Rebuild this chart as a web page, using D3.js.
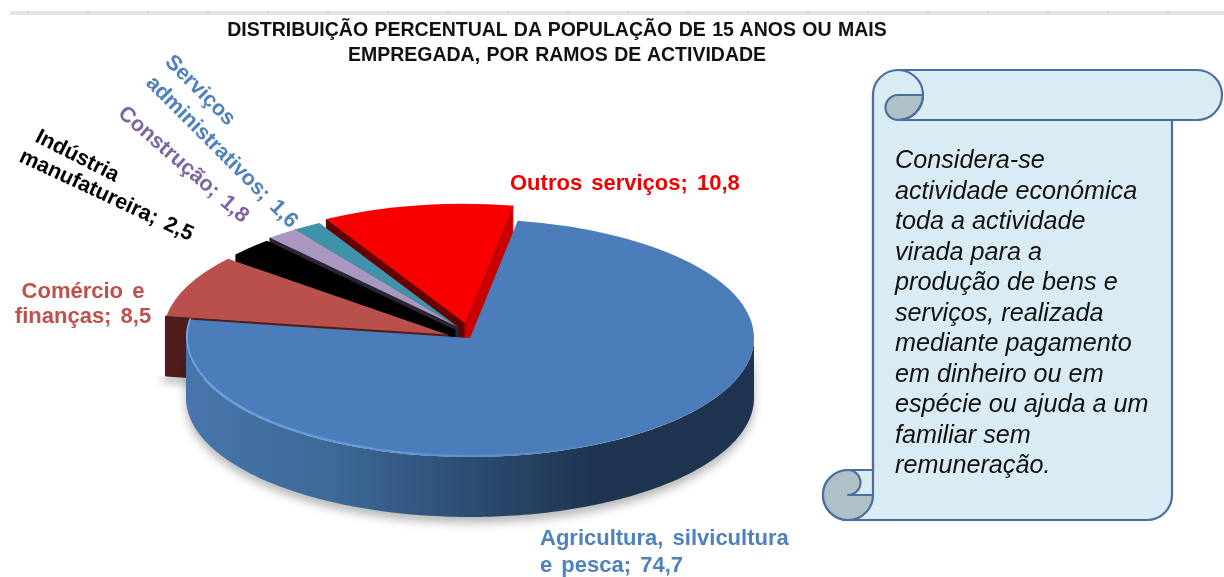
<!DOCTYPE html>
<html><head><meta charset="utf-8">
<script src="https://cdn.jsdelivr.net/npm/d3@7"></script>
<style>
html,body{margin:0;padding:0;background:#fff}
svg{display:block}
text{font-family:"Liberation Sans",Arial,sans-serif}
</style></head><body>
<div id="chart"></div>
<script>
// ---- data ----
const categories = ["Agricultura, silvicultura e pesca","Comércio e finanças","Indústria manufatureira","Construção","Serviços administrativos","Outros serviços"];
const values = [74.7,8.5,2.5,1.8,1.6,10.8];
const sliceColors = ["#4a7db9","#b9504c","#000000","#a997bf","#3f92a9","#f90000"];
const titleLines = ["DISTRIBUIÇÃO PERCENTUAL DA POPULAÇÃO DE 15 ANOS OU MAIS","EMPREGADA, POR RAMOS DE ACTIVIDADE"];
const noteLines = ["Considera-se","actividade económica","toda a actividade","virada para a","produção de bens e","serviços, realizada","mediante pagamento","em dinheiro ou em","espécie ou ajuda a um","familiar sem","remuneração."];

const W=1224,H=577;
const svg=d3.select("#chart").append("svg").attr("width",W).attr("height",H).style("filter","blur(0.45px)");
const defs=svg.append("defs");
defs.append("filter").attr("id","soft").attr("x","-10%").attr("y","-10%").attr("width","120%").attr("height","130%")
  .append("feGaussianBlur").attr("stdDeviation",5);

// top strip
svg.append("rect").attr("x",10).attr("y",11).attr("width",W-10).attr("height",4).attr("fill","#e4e4e4");
svg.append("g").selectAll("rect").data(d3.range(27,W,60)).join("rect")
  .attr("x",d=>d).attr("y",11).attr("width",2).attr("height",1.5).attr("fill","#c8c8c8");

// ---- pie geometry ----
const rad=Math.PI/180, RX=284, RY=119, DEPTH=60;
const pieGen=d3.pie().sort(null).value(d=>d).startAngle(9.7*rad).endAngle(369.7*rad);
const arcs=pieGen(values);
const centers=[[470,338],[447,334.5],[455,330],[458,327],[458,327],[465,323]];
const px=(i,a)=>centers[i][0]+RX*Math.sin(a);
const py=(i,a)=>centers[i][1]-RY*Math.cos(a);
const arcGen=d3.arc().innerRadius(0).outerRadius(1);
const topPath=(i)=>arcGen({startAngle:arcs[i].startAngle,endAngle:arcs[i].endAngle});
const g=svg.append("g");
function drawTop(i){
  g.append("path").attr("d",topPath(i))
   .attr("transform",`translate(${centers[i][0]},${centers[i][1]}) scale(${RX},${RY})`)
   .attr("fill",sliceColors[i]).attr("stroke","none");
}
function radialWall(i,a,fill){
  const [cx,cy]=centers[i];
  const pts=[[px(i,a),py(i,a)],[px(i,a),py(i,a)+DEPTH],[cx,cy+DEPTH],[cx,cy]];
  g.append("path").attr("d",d3.line()(pts)+"Z").attr("fill",fill).attr("stroke",fill).attr("stroke-width",1).attr("stroke-linejoin","round");
}
// red (last slice) drawn first, then back to front
radialWall(5,arcs[5].startAngle,"#650000");
radialWall(5,arcs[5].endAngle,"#c80000");
drawTop(5);
radialWall(4,arcs[4].startAngle,"#1f3a44");drawTop(4);
radialWall(3,arcs[3].startAngle,"#2a2433");drawTop(3);
radialWall(2,arcs[2].startAngle,"#000000");drawTop(2);
// brown slice
{
  const i=1,a=arcs[1].startAngle,fill="#4f1c1c";
  const pts=[[px(i,a),py(i,a)+1],[px(i,a),py(i,a)+DEPTH-1],[centers[i][0],centers[i][1]+DEPTH],[centers[i][0],centers[i][1]+1]];
  g.append("path").attr("d",d3.line()(pts.slice(1,3))).attr("stroke","#000").attr("stroke-opacity",.3).attr("stroke-width",8).attr("transform","translate(-3,3)").attr("filter","url(#soft)");
  g.append("path").attr("d",d3.line()(pts)+"Z").attr("fill",fill).attr("stroke",fill).attr("stroke-width",3).attr("stroke-linejoin","round");
  drawTop(1);
}
// blue slice wall
const frontAngles=d3.range(90,270.5,1).map(d=>d*rad);
const wallGrad=defs.append("linearGradient").attr("id","wall").attr("gradientUnits","userSpaceOnUse")
  .attr("x1",186).attr("x2",754).attr("y1",0).attr("y2",0);
[[0,"#4676ac"],[.26,"#3d6997"],[.47,"#2e5076"],[.72,"#1f344f"],[1,"#1f344f"]].forEach(s=>wallGrad.append("stop").attr("offset",s[0]).attr("stop-color",s[1]));
const wallArea=d3.area().x(a=>px(0,a)).y0(a=>py(0,a)).y1(a=>py(0,a)+DEPTH);
// soft shadow below the pie
g.append("path").attr("d",wallArea(frontAngles)).attr("transform","translate(0,6)").attr("fill","#000").attr("fill-opacity",.28).attr("filter","url(#soft)");
g.append("path").attr("d",wallArea(frontAngles)).attr("fill","url(#wall)");
drawTop(0);
// bevel rim
const rimGrad=defs.append("linearGradient").attr("id","rim").attr("gradientUnits","userSpaceOnUse")
  .attr("x1",186).attr("x2",640).attr("y1",0).attr("y2",0);
[[0,"#6aa2e4",1],[.7,"#5c90d0",1],[1,"#4a7db9",0]].forEach(s=>rimGrad.append("stop").attr("offset",s[0]).attr("stop-color",s[1]).attr("stop-opacity",s[2]));
const rimAngles=d3.range(279,125,-1).map(d=>d*rad);
g.append("path").attr("d",d3.line().x(a=>px(0,a)+(Math.sin(a)<0?1:0)).y(a=>py(0,a)-1)(rimAngles))
 .attr("fill","none").attr("stroke","url(#rim)").attr("stroke-width",2);

// ---- title ----
svg.append("g").selectAll("text").data(titleLines).join("text")
 .attr("x",557).attr("y",(d,i)=>36+i*25).attr("text-anchor","middle")
 .attr("font-size",19.5).attr("word-spacing",1).attr("font-weight","bold").attr("fill","#111").text(d=>d);

// ---- slice labels ----
const labelBlocks=[
 {lines:["Outros serviços; 10,8"],color:"#f00000",x:510,y:190,rot:0,lh:0},
 {lines:["Comércio e","finanças; 8,5"],color:"#c0504d",x:83,y:298,rot:0,lh:25,anchor:"middle"},
 {lines:["Agricultura, silvicultura","e pesca; 74,7"],color:"#4f81bd",x:540,y:545,rot:0,lh:27},
];
const rotated=[
 {text:"Serviços",color:"#4f81bd",x:164,y:63,rot:45},
 {text:"administrativos; 1,6",color:"#4f81bd",x:145,y:84,rot:45},
 {text:"Construção; 1,8",color:"#8064a2",x:117,y:115,rot:41},
 {text:"Indústria",color:"#000",x:34,y:141,rot:27},
 {text:"manufatureira; 2,5",color:"#000",x:18,y:161,rot:25},
];
labelBlocks.forEach(b=>b.lines.forEach((l,i)=>{
  svg.append("text").attr("x",b.x).attr("y",b.y+i*b.lh).attr("text-anchor",b.anchor||"start")
    .attr("font-size",22).attr("word-spacing",3).attr("font-weight","bold").attr("fill",b.color).text(l);
}));
rotated.forEach(r=>svg.append("text").attr("transform",`translate(${r.x},${r.y}) rotate(${r.rot})`)
    .attr("font-size",21.5).attr("word-spacing",3).attr("font-weight","bold").attr("fill",r.color).text(r.text));

// ---- scroll note ----
const S=svg.append("g").attr("stroke","#4a6f9f").attr("stroke-width",2.2).attr("stroke-linejoin","round").attr("fill","none");
const L=873,R=1172,T=70,B=520,r=25;
const body=d3.path();
body.moveTo(L,T+r);body.arc(L+r,T+r,r,Math.PI,1.5*Math.PI);
body.lineTo(R+r,T);body.arc(R+r,T+r,r,-.5*Math.PI,.5*Math.PI);body.lineTo(R,T+2*r);
body.lineTo(R,B-r);body.arc(R-r,B-r,r,0,.5*Math.PI);body.lineTo(L-r,B);
body.arc(L-r,B-r,r,.5*Math.PI,1.5*Math.PI);body.lineTo(L,B-2*r);body.closePath();
S.append("path").attr("d",body.toString()).attr("fill","#daecf3");
// top curl
const c1=d3.path();
c1.moveTo(L+2*r,T+r);c1.lineTo(L+r,T+r);c1.arc(L+r,T+1.5*r,r/2,-.5*Math.PI,.5*Math.PI,true);
c1.arc(L+r,T+r,r,.5*Math.PI,0,true);c1.closePath();
S.append("path").attr("d",c1.toString()).attr("fill","#afc0c6");
const c1b=d3.path();c1b.moveTo(L+r,T);c1b.arc(L+r,T+r,r,-.5*Math.PI,.5*Math.PI);c1b.lineTo(R,T+2*r);
S.append("path").attr("d",c1b.toString());
// bottom curl
const c2=d3.path();
c2.moveTo(L-r,B-2*r);c2.arc(L-r,B-r,r,-.5*Math.PI,.5*Math.PI,true);c2.arc(L-r,B-r,r,.5*Math.PI,0,true);
c2.lineTo(L-r,B-r);c2.arc(L-r,B-1.5*r,r/2,.5*Math.PI,-.5*Math.PI,true);c2.closePath();
S.append("path").attr("d",c2.toString()).attr("fill","#afc0c6");
svg.append("line").attr("x1",L).attr("x2",L).attr("y1",T+r).attr("y2",B-r).attr("stroke","#4a6f9f").attr("stroke-width",2.2);

svg.append("g").selectAll("text").data(noteLines).join("text")
 .attr("x",895).attr("y",(d,i)=>168+i*30.5).attr("font-size",25.2).attr("font-style","italic").attr("fill","#111").text(d=>d);
</script>
</body></html>
